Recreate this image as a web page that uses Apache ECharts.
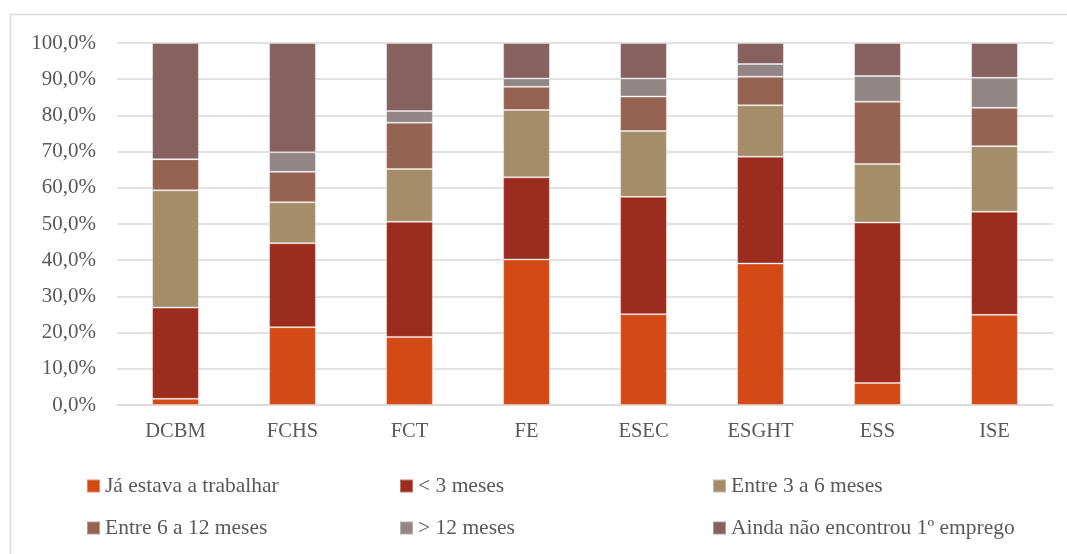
<!DOCTYPE html>
<html>
<head>
<meta charset="utf-8">
<script src="https://cdn.jsdelivr.net/npm/echarts@6/dist/echarts.min.js"></script>
<style>html,body{margin:0;padding:0;background:#fff}#c{width:1067px;height:554px}</style>
</head>
<body>
<div id="c"></div>
<script>
const categories = ['DCBM','FCHS','FCT','FE','ESEC','ESGHT','ESS','ISE'];
const seriesNames = ['Já estava a trabalhar','< 3 meses','Entre 3 a 6 meses','Entre 6 a 12 meses','> 12 meses','Ainda não encontrou 1º emprego'];
const jaTrabalhar = [1.7, 21.5, 18.8, 40.2, 25.1, 39.1, 6.1, 24.9];
const menos3 =      [25.2, 23.2, 31.8, 22.7, 32.4, 29.5, 44.3, 28.5];
const entre3e6 =    [32.4, 11.3, 14.6, 18.6, 18.2, 14.2, 16.2, 18.1];
const entre6e12 =   [8.6, 8.4, 12.8, 6.4, 9.5, 7.9, 17.2, 10.6];
const mais12 =      [0.0, 5.4, 3.2, 2.3, 5.0, 3.5, 7.1, 8.3];
const ainda =       [32.1, 30.2, 18.8, 9.8, 9.8, 5.8, 9.1, 9.6];
const yTicks = [0,10,20,30,40,50,60,70,80,90,100];

const values = [jaTrabalhar, menos3, entre3e6, entre6e12, mais12, ainda];
const colors = ['#D34A17','#9C2C1E','#A58D6A','#966352','#918586','#876060'];
const font = '"Liberation Serif", "DejaVu Serif", serif';
const txt = '#595959';

const legendPos = [[86,475],[399,475],[712,475],[86,517],[399,517],[712,517]];

const chart = echarts.init(document.getElementById('c'));
chart.setOption({
  animation: false,
  backgroundColor: '#fff',
  graphic: [{
    type: 'rect', silent: true,
    shape: {x: 10.5, y: 14.5, width: 1060, height: 620},
    style: {fill: 'none', stroke: '#d9d9d9', lineWidth: 1.5}
  }],
  grid: {left: 117, right: 14, top: 43, bottom: 149, containLabel: false},
  legend: seriesNames.map((n, i) => ({
    data: [n], left: legendPos[i][0], top: legendPos[i][1],
    itemWidth: 13, itemHeight: 13, icon: 'rect', padding: 0,
    textStyle: {fontFamily: font, fontSize: 21.5, color: txt}
  })),
  xAxis: {
    type: 'category', data: categories,
    axisLine: {lineStyle: {color: '#d9d9d9', width: 1.5}},
    axisTick: {show: false},
    axisLabel: {fontFamily: font, fontSize: 20.5, color: txt, margin: 16}
  },
  yAxis: {
    type: 'value', min: yTicks[0], max: yTicks[yTicks.length-1], interval: 10,
    axisLine: {show: false}, axisTick: {show: false},
    splitLine: {lineStyle: {color: '#d9d9d9', width: 1.5}},
    axisLabel: {fontFamily: font, fontSize: 21, color: txt, margin: 21,
      formatter: v => v.toFixed(1).replace('.', ',') + '%'}
  },
  series: seriesNames.map((n, i) => ({
    name: n, type: 'bar', stack: 'total', data: values[i],
    barWidth: '40%',
    itemStyle: {color: colors[i], borderColor: 'rgba(255,255,255,0.35)', borderWidth: 1}
  }))
});
</script>
</body>
</html>
